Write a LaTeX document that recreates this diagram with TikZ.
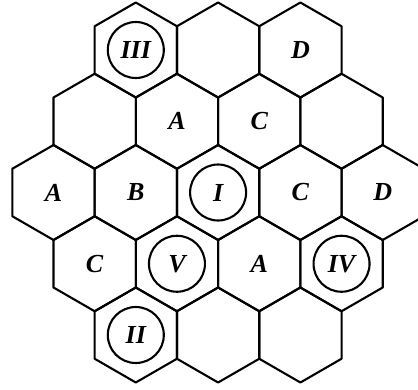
\documentclass[tikz,border=0pt]{standalone}
\usepackage{fontspec}
\setmainfont{Liberation Serif}
\begin{document}
\begin{tikzpicture}[x=1pt,y=-1pt,
  hexline/.style={line width=2.1pt, line join=round},
  lab/.style={font=\fontsize{26}{26}\selectfont\bfseries\itshape, inner sep=0pt},
  ring/.style={circle, draw, line width=2.1pt, minimum size=56pt, inner sep=0pt,
    font=\fontsize{26}{26}\selectfont\bfseries\itshape}]
\useasboundingbox (0,0) rectangle (418,389);
\clip (0,0) rectangle (418,389);
\def\R{47.5}\def\Hw{41.15}\def\Hh{23.75}
\foreach \cx/\cy in {135.8/50,218.1/50,300.4/50,
  94.65/121.25,176.95/121.25,259.25/121.25,341.55/121.25,
  53.5/192.5,135.8/192.5,218.1/192.5,300.4/192.5,382.7/192.5,
  94.65/263.75,176.95/263.75,259.25/263.75,341.55/263.75,
  135.8/335,218.1/335,300.4/335}
  \draw[hexline] (\cx,{\cy-\R}) -- ({\cx+\Hw},{\cy-\Hh}) -- ({\cx+\Hw},{\cy+\Hh})
     -- (\cx,{\cy+\R}) -- ({\cx-\Hw},{\cy+\Hh}) -- ({\cx-\Hw},{\cy-\Hh}) -- cycle;
% row 1
\node[ring] (r1a) at (135.8,50) {III};
\node[lab] (r1c) at (300.4,50) {D};
% row 2
\node[lab] (r2b) at (176.95,121.25) {A};
\node[lab] (r2c) at (259.25,121.25) {C};
% row 3
\node[lab] (r3a) at (53.5,192.5) {A};
\node[lab] (r3b) at (135.8,192.5) {B};
\node[ring] (r3c) at (218.1,192.5) {I};
\node[lab] (r3d) at (300.4,192.5) {C};
\node[lab] (r3e) at (382.7,192.5) {D};
% row 4
\node[lab] (r4a) at (94.65,263.75) {C};
\node[ring] (r4b) at (176.95,263.75) {V};
\node[lab] (r4c) at (259.25,263.75) {A};
\node[ring] (r4d) at (341.55,263.75) {IV};
% row 5
\node[ring] (r5a) at (135.8,335) {II};
\end{tikzpicture}
\end{document}
